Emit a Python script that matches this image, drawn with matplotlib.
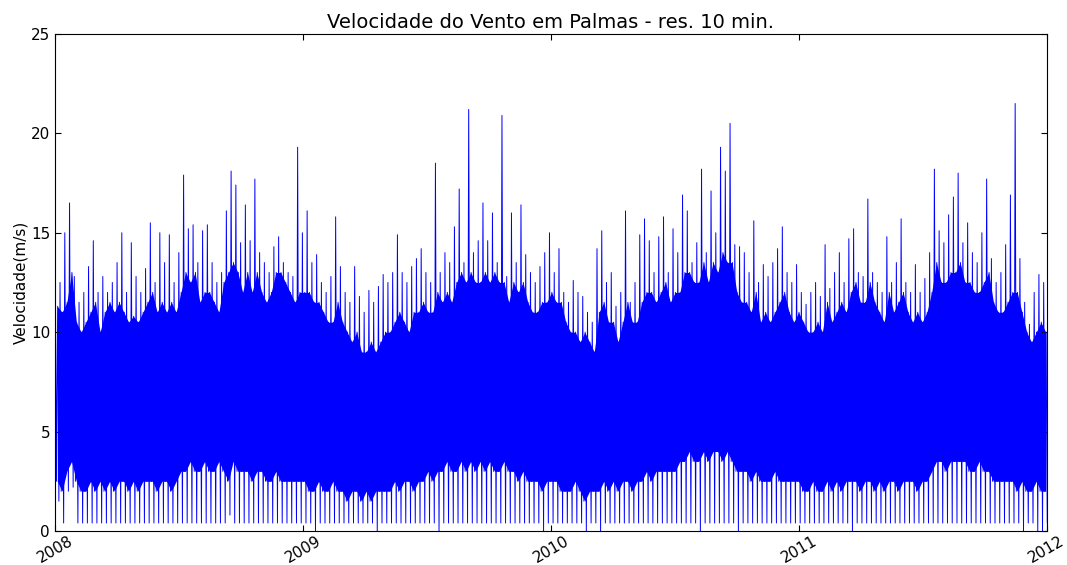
import numpy as np
import matplotlib
matplotlib.use("Agg")
import matplotlib.pyplot as plt
import matplotlib.dates as mdates

# weekly maximum wind speed (m/s), weeks from 2008-01-01
wk_max = [
    13.5, 12.5, 15.0, 16.5, 12.8, 11.5, 12.0, 13.3, 14.6, 12.0,
    12.8, 12.0, 12.5, 13.5, 15.0, 12.0, 14.5, 12.8, 12.0, 13.2,
    15.5, 12.5, 15.0, 13.5, 14.9, 12.5, 14.0, 17.9, 15.2, 15.4,
    13.5, 15.1, 15.4, 13.5, 12.5, 13.0, 16.1, 18.1, 17.4, 14.5,
    16.4, 14.6, 17.7, 14.0, 13.5, 13.0, 14.3, 14.8, 13.5, 13.0,
    12.8, 19.3, 15.0, 16.1, 13.5, 13.9, 12.5, 12.0, 12.8, 15.8,
    13.3, 12.0, 11.5, 13.3, 11.8, 11.0, 12.1, 11.5, 12.3, 12.9,
    12.5, 13.0, 14.9, 13.0, 12.5, 13.3, 13.7, 14.2, 13.0, 12.5,
    18.5, 13.0, 14.0, 13.5, 15.3, 17.2, 13.5, 21.2, 14.0, 14.6,
    16.5, 14.6, 16.0, 13.5, 20.9, 12.8, 16.0, 13.5, 16.4, 13.9,
    13.0, 12.5, 13.3, 14.0, 15.0, 13.0, 14.2, 12.0, 11.5, 12.6,
    12.0, 11.8, 11.0, 10.5, 14.2, 15.1, 12.5, 13.0, 11.3, 12.0,
    16.1, 11.5, 12.5, 14.9, 15.7, 14.6, 13.0, 14.8, 15.8, 13.0,
    15.2, 14.0, 16.9, 16.1, 13.5, 14.5, 18.2, 14.0, 17.1, 15.0,
    19.3, 18.1, 20.5, 14.4, 14.3, 14.0, 13.0, 15.6, 12.5, 13.4,
    12.8, 13.5, 14.2, 15.3, 13.0, 12.5, 13.4, 12.0, 11.4, 12.0,
    12.5, 11.8, 14.4, 12.2, 13.0, 14.0, 12.5, 14.7, 15.2, 13.0,
    12.8, 16.7, 13.0, 12.5, 12.0, 14.8, 12.5, 13.5, 15.7, 12.5,
    12.0, 13.4, 12.0, 12.7, 14.0, 18.2, 15.1, 14.5, 15.9, 16.8,
    18.0, 14.5, 15.5, 14.0, 13.5, 15.0, 17.7, 13.7, 12.5, 13.0,
    14.4, 16.9, 21.5, 13.7, 11.5, 10.4, 12.0, 12.9, 12.5,
]

# weekly minimum wind speed (m/s)
wk_min = [
    1.5, 0.4, 2.0, 2.2, 0.4, 0.4, 0.4, 0.4, 0.4, 0.4,
    0.4, 0.4, 0.4, 0.4, 0.4, 0.4, 0.4, 0.4, 0.4, 0.4,
    0.4, 0.4, 0.4, 0.4, 0.4, 0.4, 0.4, 0.4, 0.4, 0.4,
    0.4, 0.4, 0.4, 0.4, 0.4, 0.4, 0.8, 0.4, 0.4, 0.4,
    0.4, 0.4, 0.4, 0.4, 0.4, 0.4, 0.4, 0.4, 0.4, 0.4,
    0.4, 0.4, 0.4, 0.4, 0.0, 0.4, 0.4, 0.4, 0.4, 0.4,
    0.4, 0.4, 0.4, 0.4, 0.4, 0.4, 0.4, 0.0, 0.4, 0.4,
    0.4, 0.4, 0.4, 0.4, 0.4, 0.4, 0.4, 0.4, 0.4, 0.4,
    0.0, 0.4, 0.4, 0.4, 0.4, 0.4, 0.4, 0.4, 0.4, 0.4,
    0.4, 0.4, 0.4, 0.4, 0.4, 0.4, 0.4, 0.4, 0.4, 0.4,
    0.4, 0.4, 0.0, 0.4, 0.4, 0.4, 0.4, 0.4, 0.4, 0.4,
    0.4, 0.0, 0.4, 0.4, 0.0, 0.4, 0.4, 0.4, 0.4, 0.4,
    0.4, 0.4, 0.4, 0.4, 0.4, 0.4, 0.4, 0.4, 0.4, 0.4,
    0.4, 0.4, 0.4, 0.4, 0.4, 0.0, 0.4, 0.4, 0.4, 0.4,
    0.4, 0.4, 0.4, 0.0, 0.4, 0.4, 0.4, 0.4, 0.4, 0.4,
    0.4, 0.4, 0.4, 0.4, 0.4, 0.4, 0.4, 0.4, 0.4, 0.4,
    0.4, 0.4, 0.4, 0.4, 0.4, 0.4, 0.4, 0.0, 0.4, 0.4,
    0.4, 0.4, 0.4, 0.4, 0.4, 0.4, 0.4, 0.4, 0.4, 0.4,
    0.4, 0.4, 0.4, 0.4, 0.4, 0.4, 0.4, 0.4, 0.4, 0.4,
    0.4, 0.4, 0.4, 0.4, 0.4, 0.4, 0.4, 0.4, 0.4, 0.4,
    0.4, 0.4, 0.4, 0.0, 0.4, 0.4, 0.0, 0.0, 0.4,
]

# weekly top of the dense band (m/s)
wk_hi = [
    11.3, 11.0, 11.5, 13.0, 10.5, 10.0, 10.5, 11.0, 11.5, 10.0,
    11.0, 11.5, 11.0, 11.5, 11.0, 10.5, 10.8, 10.5, 11.0, 11.5,
    12.0, 11.0, 11.5, 11.0, 11.5, 11.0, 12.0, 13.0, 12.5, 13.0,
    11.5, 12.0, 12.0, 11.5, 11.0, 12.5, 13.0, 13.5, 13.0, 12.0,
    13.0, 12.0, 13.0, 12.0, 11.5, 12.0, 13.0, 13.0, 12.5, 12.0,
    11.5, 12.0, 12.0, 12.0, 11.5, 11.5, 11.0, 10.5, 10.5, 11.5,
    10.5, 10.0, 9.5, 10.0, 9.0, 9.0, 9.5, 9.0, 9.5, 10.0,
    10.0, 10.5, 11.0, 10.5, 10.0, 11.0, 11.0, 11.5, 11.0, 11.0,
    12.0, 11.5, 12.0, 11.5, 12.5, 13.0, 12.5, 13.0, 12.5, 12.5,
    13.0, 12.5, 13.0, 12.5, 12.5, 11.5, 12.5, 12.0, 12.5, 11.5,
    11.0, 11.0, 11.5, 11.5, 12.0, 11.5, 11.5, 10.5, 10.0, 10.0,
    9.5, 10.0, 9.5, 9.0, 11.0, 11.5, 10.5, 10.5, 9.5, 10.5,
    11.5, 10.5, 10.5, 11.5, 12.0, 12.0, 11.5, 12.0, 12.5, 11.5,
    12.0, 12.0, 13.0, 13.0, 12.5, 12.5, 13.5, 12.5, 13.5, 13.0,
    14.0, 13.5, 13.5, 12.0, 11.5, 11.5, 11.0, 12.0, 10.5, 11.0,
    10.5, 11.0, 11.5, 12.0, 11.0, 10.5, 11.0, 10.5, 10.0, 10.0,
    10.5, 10.0, 11.5, 10.5, 11.0, 11.5, 11.0, 12.0, 12.5, 11.5,
    11.5, 12.5, 11.5, 11.0, 10.5, 12.0, 11.0, 11.5, 12.0, 11.0,
    10.5, 11.0, 10.5, 11.0, 12.0, 13.5, 12.5, 12.5, 13.0, 13.0,
    13.5, 12.5, 12.5, 12.0, 12.0, 12.5, 13.0, 11.5, 11.0, 11.0,
    11.5, 12.0, 12.0, 11.0, 10.0, 9.5, 10.0, 10.5, 10.0,
]

# weekly bottom of the dense band (m/s)
wk_lo = [
    2.5, 2.0, 3.0, 3.5, 2.5, 2.0, 2.0, 2.5, 2.0, 2.5,
    2.0, 2.5, 2.0, 2.5, 2.5, 2.0, 2.5, 2.0, 2.5, 2.5,
    2.5, 2.0, 2.5, 2.5, 2.0, 2.5, 3.0, 3.0, 3.5, 3.0,
    3.0, 3.5, 3.0, 3.0, 3.5, 3.0, 2.5, 3.5, 3.0, 3.0,
    3.0, 2.5, 3.0, 3.0, 2.5, 2.5, 3.0, 2.5, 2.5, 2.5,
    2.5, 2.5, 2.5, 2.0, 2.0, 2.5, 2.0, 2.0, 2.5, 2.0,
    2.0, 1.5, 2.0, 2.0, 1.5, 2.0, 1.5, 2.0, 2.0, 2.0,
    2.0, 2.5, 2.0, 2.5, 2.5, 2.0, 2.5, 2.5, 3.0, 2.5,
    3.0, 3.0, 3.5, 3.0, 3.0, 3.5, 3.0, 3.5, 3.0, 3.5,
    3.0, 3.5, 3.0, 3.0, 3.5, 3.0, 3.0, 2.5, 3.0, 2.5,
    2.5, 2.5, 2.0, 2.5, 2.5, 2.5, 2.0, 2.0, 2.0, 2.5,
    2.0, 1.5, 2.0, 2.0, 2.0, 2.5, 2.0, 2.5, 2.0, 2.5,
    2.5, 2.0, 2.5, 2.5, 3.0, 2.5, 3.0, 3.0, 3.0, 3.0,
    3.0, 3.5, 3.5, 4.0, 3.5, 3.5, 4.0, 3.5, 4.0, 4.0,
    3.5, 4.0, 3.5, 3.0, 3.0, 3.0, 2.5, 3.0, 2.5, 2.5,
    2.5, 3.0, 2.5, 2.5, 2.5, 2.5, 2.5, 2.0, 2.0, 2.5,
    2.0, 2.0, 2.5, 2.0, 2.5, 2.0, 2.5, 2.5, 2.5, 2.0,
    2.5, 2.5, 2.0, 2.5, 2.0, 2.5, 2.5, 2.0, 2.5, 2.5,
    2.5, 2.0, 2.5, 2.5, 3.0, 3.5, 3.5, 3.0, 3.5, 3.5,
    3.5, 3.5, 3.0, 3.0, 3.5, 3.0, 3.0, 2.5, 2.5, 2.5,
    2.5, 2.5, 2.0, 2.5, 2.0, 2.0, 2.5, 2.0, 2.0,
]

# time axes
n = len(wk_max)
wk_start = np.datetime64('2008-01-01T00:00') + np.arange(n) * np.timedelta64(7, 'D')
wk_mid = wk_start + np.timedelta64(84, 'h')

# line through each week's max, band bottom, band top and min
t = np.empty(4 * n, dtype='datetime64[m]')
t[0::4] = wk_start + np.timedelta64(12, 'h')
t[1::4] = wk_start + np.timedelta64(53, 'h')
t[2::4] = wk_start + np.timedelta64(96, 'h')
t[3::4] = wk_start + np.timedelta64(139, 'h')
v = np.empty(4 * n)
v[0::4] = wk_max
v[1::4] = wk_lo
v[2::4] = wk_hi
v[3::4] = wk_min

fig = plt.figure(figsize=(10.67, 5.65), dpi=100)
ax = fig.add_axes([0.0515, 0.0602, 0.9295, 0.8798])

ax.fill_between(wk_mid, wk_lo, wk_hi, color='b', linewidth=0)
ax.plot(t, v, color='b', linewidth=0.7)

ax.set_xlim(np.datetime64('2008-01-01'), np.datetime64('2012-01-01'))
ax.set_ylim(0, 25)
ax.set_yticks([0, 5, 10, 15, 20, 25])
ax.xaxis.set_major_locator(mdates.YearLocator())
ax.xaxis.set_major_formatter(mdates.DateFormatter('%Y'))
ax.tick_params(direction='in', top=True, right=True, length=4, labelsize=11)
ax.tick_params(axis='x', pad=2)
for lbl in ax.get_xticklabels():
    lbl.set_rotation(30)
    lbl.set_ha('center')

ax.set_title('Velocidade do Vento em Palmas - res. 10 min.', fontsize=14, pad=4)
ax.set_ylabel('Velocidade(m/s)', fontsize=11, labelpad=2)

fig.savefig('out.png', dpi=100)
